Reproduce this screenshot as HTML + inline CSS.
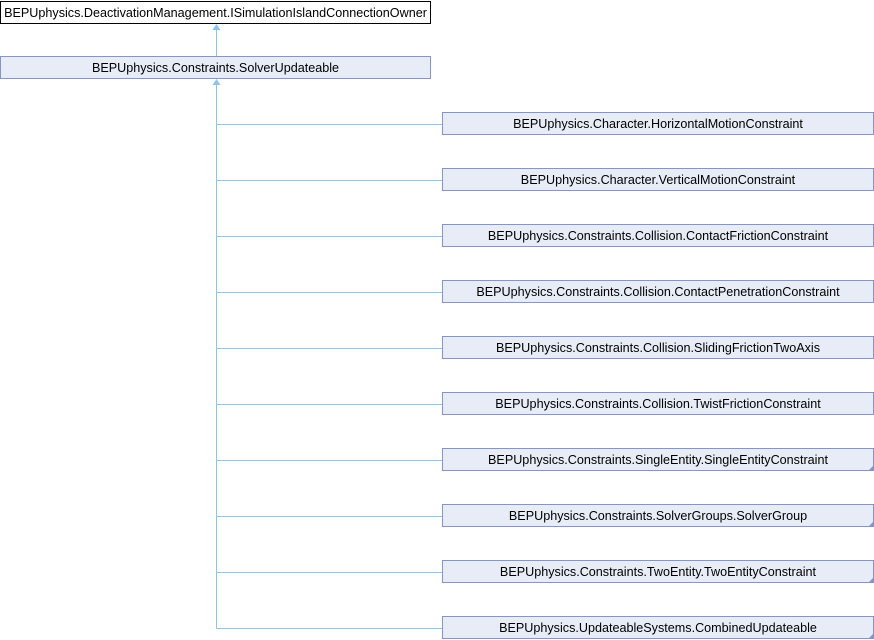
<!DOCTYPE html>
<html><head><style>body{margin:0;background:#fff}svg{display:block}text{font-family:"Liberation Sans",sans-serif;font-size:12.6px;fill:#000}</style></head><body>
<svg width="874" height="640" xmlns="http://www.w3.org/2000/svg">
<rect x="0.5" y="1.5" width="430" height="22" fill="#fff" stroke="#000"/>
<text x="215.5" y="17" text-anchor="middle">BEPUphysics.DeactivationManagement.ISimulationIslandConnectionOwner</text>
<rect x="0.5" y="56.5" width="430" height="22" fill="#e8ecf6" stroke="#8396cb"/>
<text x="215.5" y="72" text-anchor="middle">BEPUphysics.Constraints.SolverUpdateable</text>
<g stroke="#8ac6ea" fill="none">
<line x1="216.5" y1="29" x2="216.5" y2="56"/>
<line x1="216.5" y1="84" x2="216.5" y2="628.5"/>
<path d="M216.5 124.5H442M216.5 180.5H442M216.5 236.5H442M216.5 292.5H442M216.5 348.5H442M216.5 404.5H442M216.5 460.5H442M216.5 516.5H442M216.5 572.5H442M216.5 628.5H442"/>
</g>
<g fill="#8ac6ea"><polygon points="216.5,24 212.5,30 220.5,30"/><polygon points="216.5,79 212.5,85 220.5,85"/></g>
<g>
<rect x="442.5" y="112.5" width="431" height="22" fill="#e8ecf6" stroke="#8396cb"/>
<rect x="442.5" y="168.5" width="431" height="22" fill="#e8ecf6" stroke="#8396cb"/>
<rect x="442.5" y="224.5" width="431" height="22" fill="#e8ecf6" stroke="#8396cb"/>
<rect x="442.5" y="280.5" width="431" height="22" fill="#e8ecf6" stroke="#8396cb"/>
<rect x="442.5" y="336.5" width="431" height="22" fill="#e8ecf6" stroke="#8396cb"/>
<rect x="442.5" y="392.5" width="431" height="22" fill="#e8ecf6" stroke="#8396cb"/>
<rect x="442.5" y="448.5" width="431" height="22" fill="#e8ecf6" stroke="#8396cb"/>
<rect x="442.5" y="504.5" width="431" height="22" fill="#e8ecf6" stroke="#8396cb"/>
<rect x="442.5" y="560.5" width="431" height="22" fill="#e8ecf6" stroke="#8396cb"/>
<rect x="442.5" y="616.5" width="431" height="22" fill="#e8ecf6" stroke="#8396cb"/>
</g>
<g fill="#8396cb"><polygon points="874,465 874,471 868,471"/><polygon points="874,521 874,527 868,527"/><polygon points="874,577 874,583 868,583"/><polygon points="874,633 874,639 868,639"/></g>
<g text-anchor="middle">
<text x="658" y="128">BEPUphysics.Character.HorizontalMotionConstraint</text>
<text x="658" y="184">BEPUphysics.Character.VerticalMotionConstraint</text>
<text x="658" y="240">BEPUphysics.Constraints.Collision.ContactFrictionConstraint</text>
<text x="658" y="296">BEPUphysics.Constraints.Collision.ContactPenetrationConstraint</text>
<text x="658" y="352">BEPUphysics.Constraints.Collision.SlidingFrictionTwoAxis</text>
<text x="658" y="408">BEPUphysics.Constraints.Collision.TwistFrictionConstraint</text>
<text x="658" y="464">BEPUphysics.Constraints.SingleEntity.SingleEntityConstraint</text>
<text x="658" y="520">BEPUphysics.Constraints.SolverGroups.SolverGroup</text>
<text x="658" y="576">BEPUphysics.Constraints.TwoEntity.TwoEntityConstraint</text>
<text x="658" y="632">BEPUphysics.UpdateableSystems.CombinedUpdateable</text>
</g>
</svg>
</body></html>
